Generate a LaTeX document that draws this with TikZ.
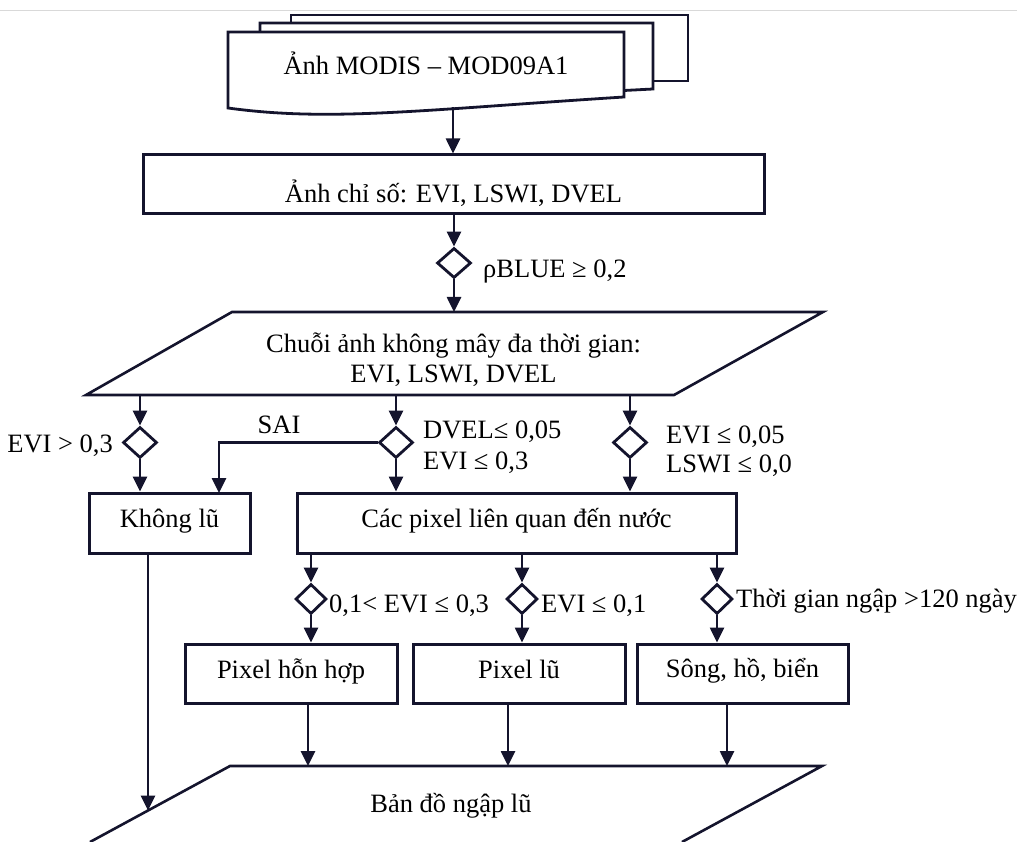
\documentclass[tikz,border=0pt]{standalone}
\usepackage{fontspec}
\setmainfont{Liberation Serif}
\usetikzlibrary{shapes.geometric,arrows.meta}
\definecolor{ink}{RGB}{20,20,45}
\begin{document}
\begin{tikzpicture}[x=1pt,y=-1pt,
  every node/.style={font=\fontsize{26.5}{31}\selectfont, text=black},
  box/.style={draw=ink, line width=3pt, fill=white, inner sep=0pt, shape=rectangle},
  dia/.style={draw=ink, line width=2.8pt, fill=white, shape=diamond, inner sep=0pt,
              minimum width=34pt, minimum height=31pt},
  smalldia/.style={dia, minimum width=31pt, minimum height=30pt},
  arr/.style={draw=ink, line width=2.6pt, -{Triangle[length=15pt,width=14pt]}},
  edge/.style={draw=ink, line width=2.6pt, line join=miter},
  page/.style={draw=ink, line width=2.8pt, fill=white, line join=miter},
  lbl/.style={anchor=base, inner sep=0pt},
  lblw/.style={anchor=base west, inner sep=0pt},
  lble/.style={anchor=base east, inner sep=0pt}]

\useasboundingbox (0,0) rectangle (1017,842);
\draw[black!15, line width=1pt] (0,11) -- (1017,11);

% stacked input document
\draw[page] (291,15) rectangle (688,81);
\draw[page] (260,23) -- (653,23) -- (653,89) -- (624,90.5) -- (260,90.5) -- cycle;
\draw[page] (228,32) -- (624,32) -- (624,97)
   .. controls (420,110) and (330,122) .. (228,108) -- cycle;
\coordinate (docbot) at (453,107.5);
\node[lbl] (tdoc) at (426,75) {Ảnh MODIS – MOD09A1};

% index images
\node[box, minimum width=621pt, minimum height=59pt] (idx) at (453.5,184.5) {};
\node[lbl] (tidx) at (453.5,203) {Ảnh chỉ số: EVI, LSWI, DVEL};

\node[dia, minimum height=30pt] (d1) at (454,263) {};
\node[lblw] (td1) at (483,278) {ρBLUE ≥ 0,2};

% cloud-free time series
\draw[edge] (232,312) -- (823,312) -- (674,395) -- (86,395) -- cycle;
\node[lbl] (tser1) at (453.5,352) {Chuỗi ảnh không mây đa thời gian:};
\node[lbl] (tser2) at (453.5,382) {EVI, LSWI, DVEL};
\coordinate (s1) at (140,395);
\coordinate (s2) at (396,395);
\coordinate (s3) at (630,395);

% first level tests
\node[dia] (d2) at (140,442.5) {};
\node[dia] (d3) at (396,442.5) {};
\node[dia] (d4) at (630,442.5) {};
\node[lble] (td2) at (113,452) {EVI > 0,3};
\node[lbl] (tsai) at (279,433) {SAI};
\node[lblw] (td3a) at (423,438) {DVEL≤ 0,05};
\node[lblw] (td3b) at (423,469) {EVI ≤ 0,3};
\node[lblw] (td4a) at (666,443) {EVI ≤ 0,05};
\node[lblw] (td4b) at (666,472) {LSWI ≤ 0,0};

\node[box, minimum width=161pt, minimum height=60pt] (kl) at (169.5,523) {};
\node[lbl] (tkl) at (169.5,527) {Không lũ};
\node[box, minimum width=439pt, minimum height=60pt] (cac) at (516.5,523) {};
\node[lbl] (tcac) at (516.5,527) {Các pixel liên quan đến nước};
\coordinate (saiend) at (219,493);

% second level tests
\node[smalldia] (d5) at (311,599) {};
\node[smalldia] (d6) at (522,599) {};
\node[smalldia] (d7) at (717,599) {};
\node[lblw] (td5) at (329,612) {0,1< EVI ≤ 0,3};
\node[lblw] (td6) at (541,612) {EVI ≤ 0,1};
\node[lblw] (td7) at (736,607) {Thời gian ngập >120 ngày};

\node[box, minimum width=212pt, minimum height=59pt] (hh) at (291,673.5) {};
\node[lbl] (thh) at (291,678) {Pixel hỗn hợp};
\node[box, minimum width=212pt, minimum height=59pt] (pl) at (519,673.5) {};
\node[lbl] (tpl) at (519,678) {Pixel lũ};
\node[box, minimum width=211pt, minimum height=59pt] (sh) at (742.5,673.5) {};
\node[lbl] (tsh) at (742.5,677) {Sông, hồ, biển};

% flood map output
\draw[edge] (90,842) -- (230,766) -- (822,766) -- (682,842);
\node[lbl] (tmap) at (451,812) {Bản đồ ngập lũ};
\coordinate (m0) at (148,810.5);
\coordinate (m1) at (308,766);
\coordinate (m2) at (508,766);
\coordinate (m3) at (727,766);

% connectors
\draw[arr] (docbot) -- (docbot |- idx.north);
\draw[arr] (d1 |- idx.south) -- (d1);
\draw[arr] (d1) -- (454,312);
\draw[arr] (s1) -- (d2);
\draw[arr] (d2) -- (d2 |- kl.north);
\draw[arr] (s2) -- (d3);
\draw[arr] (d3) -- (d3 |- cac.north);
\draw[arr] (d3.west) -| (saiend);
\draw[arr] (s3) -- (d4);
\draw[arr] (d4) -- (d4 |- cac.north);

\draw[arr] (d5 |- cac.south) -- (d5);
\draw[arr] (d5) -- (d5 |- hh.north);
\draw[arr] (d6 |- cac.south) -- (d6);
\draw[arr] (d6) -- (d6 |- pl.north);
\draw[arr] (d7 |- cac.south) -- (d7);
\draw[arr] (d7) -- (d7 |- sh.north);

\draw[arr] (m0 |- kl.south) -- (m0);
\draw[arr] (m1 |- hh.south) -- (m1);
\draw[arr] (m2 |- pl.south) -- (m2);
\draw[arr] (m3 |- sh.south) -- (m3);
\end{tikzpicture}
\end{document}
